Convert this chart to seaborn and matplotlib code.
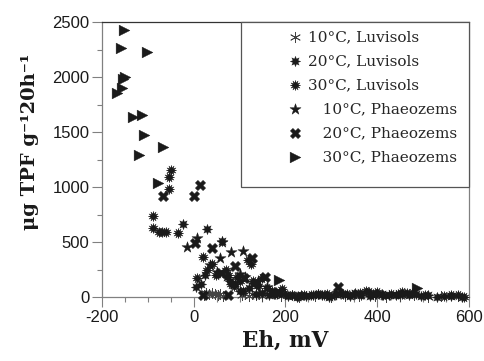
import matplotlib
matplotlib.use("Agg")
import matplotlib.pyplot as plt
import seaborn as sns
import pandas as pd
from matplotlib.ticker import MultipleLocator
from matplotlib.patches import Rectangle

sns.set_theme(style="white")
plt.rcParams['font.family'] = ['Liberation Sans', 'DejaVu Sans']
plt.rcParams['axes.unicode_minus'] = False

labels = ["10°C, Luvisols", "20°C, Luvisols", "30°C, Luvisols",
          "   10°C, Phaeozems", "   20°C, Phaeozems", "   30°C, Phaeozems"]

l10_x = [22, 28, 34, 40, 46, 52, 58, 64, 105, 112, 120, 128, 135, 142, 150, 190, 230, 265, 300, 330, 360, 395, 420, 450, 480, 510, 540, 575]
l10_y = [20, 35, 25, 40, 30, 15, 30, 10, 20, 30, 10, 25, 15, 25, 10, 10, 5, 10, 5, 10, 8, 12, 5, 10, 15, 5, 10, 8]

l20_x = [-23, 29, 62, 5, 15, 25, 72, 80, 90, 100, 120, 135, 150, 165, 175, 205, 215, 225, 235, 245, 260, 270, 280, 295, 310, 325, 340, 352, 365, 385, 398, 410, 425, 440, 455, 470, 485, 495, 510, 530, 560, 585]
l20_y = [664, 618, 509, 91, 120, 200, 180, 150, 120, 60, 80, 30, 40, 20, 25, 10, 15, 5, 20, 10, 15, 25, 20, 5, 25, 30, 10, 40, 20, 10, 25, 30, 15, 15, 30, 20, 25, 10, 15, 5, 10, 5]

l30_x = [-50, -54, -54, -89, -89, -76, -68, -60, -34, 7, 20, 30, 40, 48, 70, 75, 82, 88, 95, 100, 108, 118, 125, 130, 140, 150, 160, 170, 178, 185, 192, 200, 215, 228, 240, 255, 270, 285, 290, 305, 320, 335, 350, 362, 375, 382, 390, 400, 412, 430, 445, 455, 465, 475, 505, 545, 560, 575, 590]
l30_y = [1155, 1091, 982, 736, 627, 595, 595, 595, 582, 173, 364, 250, 300, 200, 250, 200, 120, 100, 180, 150, 60, 340, 300, 150, 100, 170, 80, 60, 30, 40, 70, 30, 20, 10, 20, 15, 30, 20, 25, 15, 40, 25, 30, 35, 60, 45, 30, 45, 20, 30, 25, 50, 35, 40, 20, 10, 20, 15, 5]

p10_x = [-15, 7, 62, 81, 57, 107, 112, 35, 50, 100, 130, 140, 160]
p10_y = [455, 536, 500, 409, 355, 418, 182, 290, 230, 210, 120, 150, 90]

p20_x = [14, 1, -67, 3, 40, 127, 155, 184, 314, 60, 90, 110, 20, 75]
p20_y = [1018, 918, 918, 491, 445, 355, 182, 45, 91, 220, 280, 170, 20, 15]

p30_x = [-152, -159, -102, -154, -150, -156, -167, -132, -113, -108, -67, -119, -78, 186, 487]
p30_y = [2427, 2263, 2227, 1982, 2000, 1900, 1855, 1636, 1655, 1473, 1364, 1291, 1036, 155, 82]

series = [(l10_x, l10_y), (l20_x, l20_y), (l30_x, l30_y),
          (p10_x, p10_y), (p20_x, p20_y), (p30_x, p30_y)]
markers = [(6, 2, 0), (8, 1, 0), (12, 1, 0), '*', 'X', '>']
sizes = [55, 55, 55, 70, 55, 60]

fig = plt.figure(figsize=(4.85, 3.61), dpi=100)
ax = fig.add_axes([0.210, 0.177, 0.757, 0.762])

ink = '#1a1a1a'
for (xs, ys), lab, m, s in zip(series, labels, markers, sizes):
    df = pd.DataFrame({"Eh": xs, "TPF": ys})
    if m == (6, 2, 0):
        sns.scatterplot(data=df, x="Eh", y="TPF", marker=m, s=s, color='#444444',
                        linewidth=0.6, label=lab, ax=ax, clip_on=False, zorder=3)
    else:
        sns.scatterplot(data=df, x="Eh", y="TPF", marker=m, s=s, color=ink,
                        edgecolor=ink, linewidth=0.3, label=lab, ax=ax,
                        clip_on=False, zorder=3)

ax.set_xlim(-200, 600)
ax.set_ylim(0, 2500)
ax.xaxis.set_major_locator(MultipleLocator(200))
ax.xaxis.set_minor_locator(MultipleLocator(50))
ax.yaxis.set_major_locator(MultipleLocator(500))
ax.yaxis.set_minor_locator(MultipleLocator(250))
ax.tick_params(axis='both', which='major', direction='out', length=7, width=0.8,
               color='#808080', labelsize=12, labelcolor='#1a1a1a', bottom=True, left=True, pad=2)
ax.tick_params(axis='both', which='minor', direction='out', length=3.5, width=0.8,
               color='#808080', bottom=True, left=True)
for sp in ax.spines.values():
    sp.set_color('#808080')
    sp.set_linewidth(0.9)
ax.spines['top'].set_color('#333333')

ax.set_xlabel("Eh, mV", fontfamily='DejaVu Serif', fontweight='bold',
              fontsize=15.5, color='#1a1a1a', labelpad=4)
ax.set_ylabel("μg TPF g⁻¹20h⁻¹", fontfamily='DejaVu Serif',
              fontweight='bold', fontsize=14, color='#1a1a1a')
ax.yaxis.set_label_coords(-0.172, 0.565)

# legend box
ax.add_patch(Rectangle((0.379, 0.40), 0.621, 0.60, transform=ax.transAxes,
                       facecolor='white', edgecolor='#555555', linewidth=0.9,
                       zorder=4.5, clip_on=False))
leg = ax.legend(loc='upper left', bbox_to_anchor=(0.496, 0.971), frameon=False,
                borderaxespad=0, borderpad=0,
                prop={'family': 'DejaVu Serif', 'size': 11}, labelspacing=0.66,
                handletextpad=0.15, handlelength=1.45)
leg.set_zorder(5)

fig.savefig("out.png", dpi=100)
